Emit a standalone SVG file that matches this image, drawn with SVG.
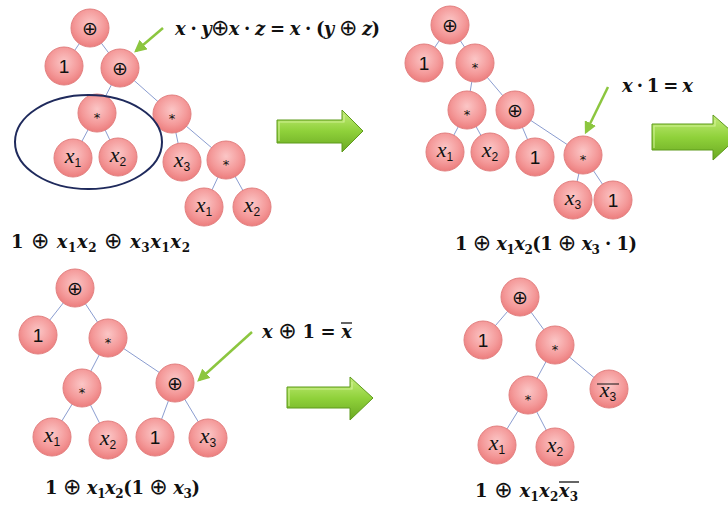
<svg xmlns="http://www.w3.org/2000/svg" width="728" height="508" viewBox="0 0 728 508">
<defs>
<radialGradient id="ng" cx="50%" cy="40%" r="60%">
<stop offset="0" stop-color="#fbc6c6"/>
<stop offset="0.65" stop-color="#f49999"/>
<stop offset="1" stop-color="#ec7d7d"/>
</radialGradient>
<linearGradient id="ag" x1="0" y1="0" x2="0" y2="1">
<stop offset="0" stop-color="#c4ec7a"/>
<stop offset="0.5" stop-color="#8fd13a"/>
<stop offset="1" stop-color="#6aa822"/>
</linearGradient>
<marker id="ah" viewBox="0 0 10 10" refX="8" refY="5" markerWidth="5" markerHeight="5" orient="auto" markerUnits="strokeWidth">
<path d="M0,0 L10,5 L0,10 z" fill="#8cc63f"/>
</marker>
</defs>
<style>
.e{stroke:#8b9dd0;stroke-width:1;fill:none}
.c{fill:url(#ng);stroke:#e27f7f;stroke-width:1}
.t{font-family:"Liberation Sans",sans-serif;font-size:19px;text-anchor:middle;fill:#111}
.op{font-family:"DejaVu Sans",sans-serif;font-size:19px;text-anchor:middle;fill:#111}
.st{font-family:"DejaVu Sans",sans-serif;font-size:13px;text-anchor:middle;fill:#111}
.v{font-family:"Liberation Serif",serif;font-size:22px;text-anchor:middle;fill:#111}
.v .x{font-style:italic}
.v .s{font-family:"Liberation Sans",sans-serif;font-size:12px}
.m{font-family:"DejaVu Serif",serif;font-weight:bold;font-size:18px;fill:#111}
.m .i{font-style:italic}
.m .o{font-family:"DejaVu Sans",sans-serif;font-weight:normal;font-size:22px}
.m .s{font-size:12px}
.g{stroke:#8cc63f;stroke-width:2.5;fill:none}
.big{fill:url(#ag);stroke:#5e9a1c;stroke-width:1}
.hl{fill:none;stroke:#d8f5a0;stroke-width:1.2;opacity:0.8}
.bar{stroke:#111;stroke-width:1.3}
</style>

<g id="connectors">
<line class="e" x1="90" y1="28" x2="64" y2="66"/>
<line class="e" x1="90" y1="28" x2="120" y2="68"/>
<line class="e" x1="120" y1="68" x2="97" y2="113"/>
<line class="e" x1="120" y1="68" x2="172" y2="114"/>
<line class="e" x1="97" y1="113" x2="73" y2="158"/>
<line class="e" x1="97" y1="113" x2="118" y2="157"/>
<line class="e" x1="172" y1="114" x2="182" y2="162"/>
<line class="e" x1="172" y1="114" x2="226" y2="160"/>
<line class="e" x1="226" y1="160" x2="204" y2="207"/>
<line class="e" x1="226" y1="160" x2="252" y2="207"/>
<line class="e" x1="450" y1="25" x2="424" y2="63"/>
<line class="e" x1="450" y1="25" x2="475" y2="63"/>
<line class="e" x1="475" y1="63" x2="467" y2="110"/>
<line class="e" x1="475" y1="63" x2="515" y2="110"/>
<line class="e" x1="467" y1="110" x2="445" y2="152"/>
<line class="e" x1="467" y1="110" x2="490" y2="152"/>
<line class="e" x1="515" y1="110" x2="535" y2="157"/>
<line class="e" x1="515" y1="110" x2="583" y2="155"/>
<line class="e" x1="583" y1="155" x2="573" y2="200"/>
<line class="e" x1="583" y1="155" x2="613" y2="200"/>
<line class="e" x1="75" y1="288" x2="38" y2="335"/>
<line class="e" x1="75" y1="288" x2="108" y2="338"/>
<line class="e" x1="108" y1="338" x2="82" y2="388"/>
<line class="e" x1="108" y1="338" x2="175" y2="383"/>
<line class="e" x1="82" y1="388" x2="52" y2="437"/>
<line class="e" x1="82" y1="388" x2="108" y2="440"/>
<line class="e" x1="175" y1="383" x2="155" y2="437"/>
<line class="e" x1="175" y1="383" x2="208" y2="438"/>
<line class="e" x1="520" y1="297" x2="483" y2="340"/>
<line class="e" x1="520" y1="297" x2="555" y2="345"/>
<line class="e" x1="555" y1="345" x2="528" y2="395"/>
<line class="e" x1="555" y1="345" x2="609" y2="390"/>
<line class="e" x1="528" y1="395" x2="497" y2="445"/>
<line class="e" x1="528" y1="395" x2="555" y2="447"/>
</g>

<g id="p1-root"><circle class="c" cx="90" cy="28" r="19"/><text class="op" x="90" y="35">⊕</text></g>
<g id="p1-one"><circle class="c" cx="64" cy="66" r="19"/><text class="t" x="64" y="73">1</text></g>
<g id="p1-xor"><circle class="c" cx="120" cy="68" r="19"/><text class="op" x="120" y="75">⊕</text></g>
<g id="p1-and1"><circle class="c" cx="97" cy="113" r="19"/><text class="st" x="97" y="122">*</text></g>
<g id="p1-x1"><circle class="c" cx="73" cy="158" r="19"/><text class="v" x="73" y="163"><tspan class="x">x</tspan><tspan class="s" dy="4">1</tspan></text></g>
<g id="p1-x2"><circle class="c" cx="118" cy="157" r="19"/><text class="v" x="118" y="162"><tspan class="x">x</tspan><tspan class="s" dy="4">2</tspan></text></g>
<g id="p1-and2"><circle class="c" cx="172" cy="114" r="19"/><text class="st" x="172" y="123">*</text></g>
<g id="p1-x3"><circle class="c" cx="182" cy="162" r="19"/><text class="v" x="182" y="167"><tspan class="x">x</tspan><tspan class="s" dy="4">3</tspan></text></g>
<g id="p1-and3"><circle class="c" cx="226" cy="160" r="19"/><text class="st" x="226" y="169">*</text></g>
<g id="p1-x1b"><circle class="c" cx="204" cy="207" r="19"/><text class="v" x="204" y="212"><tspan class="x">x</tspan><tspan class="s" dy="4">1</tspan></text></g>
<g id="p1-x2b"><circle class="c" cx="252" cy="207" r="19"/><text class="v" x="252" y="212"><tspan class="x">x</tspan><tspan class="s" dy="4">2</tspan></text></g>
<g id="p1-ellipse"><ellipse cx="88.5" cy="142" rx="73.5" ry="47" fill="none" stroke="#1f2a5c" stroke-width="2"/></g>

<g id="p2-root"><circle class="c" cx="450" cy="25" r="19"/><text class="op" x="450" y="32">⊕</text></g>
<g id="p2-one"><circle class="c" cx="424" cy="63" r="19"/><text class="t" x="424" y="70">1</text></g>
<g id="p2-and1"><circle class="c" cx="475" cy="63" r="19"/><text class="st" x="475" y="72">*</text></g>
<g id="p2-and2"><circle class="c" cx="467" cy="110" r="19"/><text class="st" x="467" y="119">*</text></g>
<g id="p2-xor"><circle class="c" cx="515" cy="110" r="19"/><text class="op" x="515" y="117">⊕</text></g>
<g id="p2-x1"><circle class="c" cx="445" cy="152" r="19"/><text class="v" x="445" y="157"><tspan class="x">x</tspan><tspan class="s" dy="4">1</tspan></text></g>
<g id="p2-x2"><circle class="c" cx="490" cy="152" r="19"/><text class="v" x="490" y="157"><tspan class="x">x</tspan><tspan class="s" dy="4">2</tspan></text></g>
<g id="p2-one2"><circle class="c" cx="535" cy="157" r="19"/><text class="t" x="535" y="164">1</text></g>
<g id="p2-and3"><circle class="c" cx="583" cy="155" r="19"/><text class="st" x="583" y="164">*</text></g>
<g id="p2-x3"><circle class="c" cx="573" cy="200" r="19"/><text class="v" x="573" y="205"><tspan class="x">x</tspan><tspan class="s" dy="4">3</tspan></text></g>
<g id="p2-one3"><circle class="c" cx="613" cy="200" r="19"/><text class="t" x="613" y="207">1</text></g>

<g id="p3-root"><circle class="c" cx="75" cy="288" r="19"/><text class="op" x="75" y="295">⊕</text></g>
<g id="p3-one"><circle class="c" cx="38" cy="335" r="19"/><text class="t" x="38" y="342">1</text></g>
<g id="p3-and1"><circle class="c" cx="108" cy="338" r="19"/><text class="st" x="108" y="347">*</text></g>
<g id="p3-and2"><circle class="c" cx="82" cy="388" r="19"/><text class="st" x="82" y="397">*</text></g>
<g id="p3-xor"><circle class="c" cx="175" cy="383" r="19"/><text class="op" x="175" y="390">⊕</text></g>
<g id="p3-x1"><circle class="c" cx="52" cy="437" r="19"/><text class="v" x="52" y="442"><tspan class="x">x</tspan><tspan class="s" dy="4">1</tspan></text></g>
<g id="p3-x2"><circle class="c" cx="108" cy="440" r="19"/><text class="v" x="108" y="445"><tspan class="x">x</tspan><tspan class="s" dy="4">2</tspan></text></g>
<g id="p3-one2"><circle class="c" cx="155" cy="437" r="19"/><text class="t" x="155" y="444">1</text></g>
<g id="p3-x3"><circle class="c" cx="208" cy="438" r="19"/><text class="v" x="208" y="443"><tspan class="x">x</tspan><tspan class="s" dy="4">3</tspan></text></g>

<g id="p4-root"><circle class="c" cx="520" cy="297" r="19"/><text class="op" x="520" y="304">⊕</text></g>
<g id="p4-one"><circle class="c" cx="483" cy="340" r="19"/><text class="t" x="483" y="347">1</text></g>
<g id="p4-and1"><circle class="c" cx="555" cy="345" r="19"/><text class="st" x="555" y="354">*</text></g>
<g id="p4-and2"><circle class="c" cx="528" cy="395" r="19"/><text class="st" x="528" y="404">*</text></g>
<g id="p4-x3bar"><circle class="c" cx="609" cy="389" r="19"/><text class="v" x="608" y="397"><tspan class="x">x</tspan><tspan class="s" dy="4">3</tspan></text><line x1="597" y1="384" x2="619" y2="384" stroke="#111" stroke-width="1"/></g>
<g id="p4-x1"><circle class="c" cx="497" cy="445" r="19"/><text class="v" x="497" y="450"><tspan class="x">x</tspan><tspan class="s" dy="4">1</tspan></text></g>
<g id="p4-x2"><circle class="c" cx="555" cy="447" r="19"/><text class="v" x="555" y="452"><tspan class="x">x</tspan><tspan class="s" dy="4">2</tspan></text></g>

<g id="pointers">
<line class="g" x1="163" y1="28" x2="136" y2="51" marker-end="url(#ah)"/>
<line class="g" x1="608" y1="87" x2="586" y2="132" marker-end="url(#ah)"/>
<line class="g" x1="252" y1="332" x2="199" y2="380" marker-end="url(#ah)"/>
</g>

<g id="arrow1"><polygon class="big" points="277,120 342,120 342,110 363,131 342,152 342,143 277,143"/><polyline class="hl" points="279,141 279,122 344,122 344,115"/></g>
<g id="arrow2"><polygon class="big" points="652,124 713,124 713,115 738,137 713,160 713,150 652,150"/><polyline class="hl" points="654,148 654,126 715,126 715,120"/></g>
<g id="arrow3"><polygon class="big" points="287,387 350,387 350,377 373,398 350,420 350,408 287,408"/><polyline class="hl" points="289,406 289,389 352,389 352,382"/></g>

<g id="labels">
<text class="m" x="175" y="35" font-size="19" textLength="205" lengthAdjust="spacing"><tspan class="i">x</tspan> · <tspan class="i">y</tspan><tspan class="o">⊕</tspan><tspan class="i">x</tspan> · <tspan class="i">z</tspan> = <tspan class="i">x</tspan> · (<tspan class="i">y</tspan> <tspan class="o">⊕</tspan> <tspan class="i">z</tspan>)</text>
<text class="m" x="622" y="92" font-size="19" textLength="71" lengthAdjust="spacing"><tspan class="i">x</tspan> · 1 = <tspan class="i">x</tspan></text>
<text class="m" x="262" y="338" font-size="19" textLength="90" lengthAdjust="spacing"><tspan class="i">x</tspan> <tspan class="o">⊕</tspan> 1 = <tspan class="i">x</tspan></text>
<line class="bar" x1="341" y1="323" x2="352" y2="323"/>

<text class="m" x="11" y="248" textLength="179" lengthAdjust="spacing">1 <tspan class="o">⊕</tspan> <tspan class="i">x</tspan><tspan class="s" dy="4">1</tspan><tspan class="i" dy="-4">x</tspan><tspan class="s" dy="4">2</tspan><tspan dy="-4"> </tspan><tspan class="o">⊕</tspan> <tspan class="i">x</tspan><tspan class="s" dy="4">3</tspan><tspan class="i" dy="-4">x</tspan><tspan class="s" dy="4">1</tspan><tspan class="i" dy="-4">x</tspan><tspan class="s" dy="4">2</tspan></text>
<text class="m" x="455" y="250" textLength="182" lengthAdjust="spacing">1 <tspan class="o">⊕</tspan> <tspan class="i">x</tspan><tspan class="s" dy="4">1</tspan><tspan class="i" dy="-4">x</tspan><tspan class="s" dy="4">2</tspan><tspan dy="-4">(1 </tspan><tspan class="o">⊕</tspan> <tspan class="i">x</tspan><tspan class="s" dy="4">3</tspan><tspan dy="-4"> · 1)</tspan></text>
<text class="m" x="45" y="494" textLength="155" lengthAdjust="spacing">1 <tspan class="o">⊕</tspan> <tspan class="i">x</tspan><tspan class="s" dy="4">1</tspan><tspan class="i" dy="-4">x</tspan><tspan class="s" dy="4">2</tspan><tspan dy="-4">(1 </tspan><tspan class="o">⊕</tspan> <tspan class="i">x</tspan><tspan class="s" dy="4">3</tspan><tspan dy="-4">)</tspan></text>
<text class="m" x="475" y="497" textLength="103" lengthAdjust="spacing">1 <tspan class="o">⊕</tspan> <tspan class="i">x</tspan><tspan class="s" dy="4">1</tspan><tspan class="i" dy="-4">x</tspan><tspan class="s" dy="4">2</tspan><tspan class="i" dy="-4">x</tspan><tspan class="s" dy="4">3</tspan></text>
<line class="bar" x1="559" y1="482" x2="579" y2="482"/>
</g>
</svg>
